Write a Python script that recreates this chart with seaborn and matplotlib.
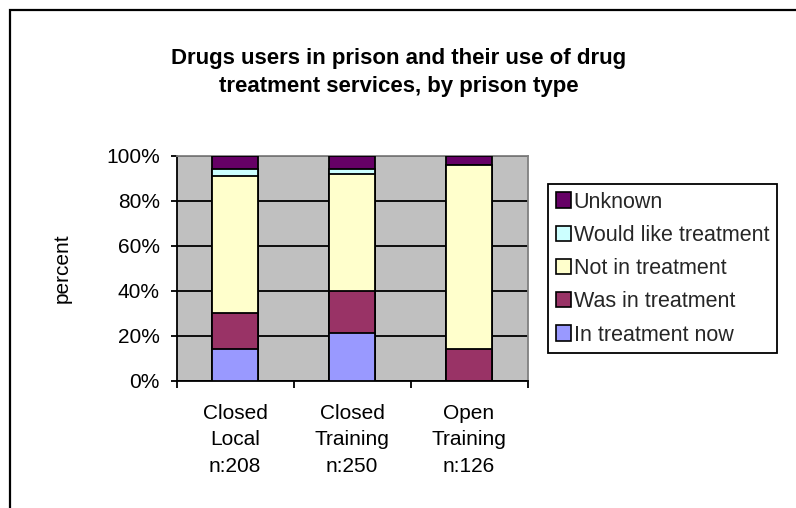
import matplotlib
matplotlib.use("Agg")
import matplotlib.pyplot as plt
from matplotlib.patches import Patch, Rectangle
from matplotlib.ticker import FuncFormatter
import numpy as np
import pandas as pd
import seaborn as sns

# Prison types and group sizes
categories = ["Closed\nLocal\nn:208", "Closed\nTraining\nn:250", "Open\nTraining\nn:126"]

# Percentages for each treatment status (stacked bottom to top)
in_treatment_now = [14, 21, 0]
was_in_treatment = [16, 19, 14]
not_in_treatment = [61, 52, 82]
would_like_treatment = [3, 2, 0]
unknown = [6, 6, 4]

series_names = ["In treatment now", "Was in treatment", "Not in treatment",
                "Would like treatment", "Unknown"]
series_values = [in_treatment_now, was_in_treatment, not_in_treatment,
                 would_like_treatment, unknown]
series_colors = ["#9999FF", "#993366", "#FFFFCC", "#CCFFFF", "#660066"]

sns.set_theme(style="white")
plt.rcParams["font.family"] = ["Liberation Sans", "DejaVu Sans"]

FS = 15

fig = plt.figure(figsize=(7.96, 5.08), dpi=100)
W, H = 796, 508

# chart-area border (runs off the right and bottom edges)
fig.patches.append(Rectangle((9.5 / W, -0.1), 1.2, 1 - 10.5 / H + 0.1,
                             transform=fig.transFigure, fill=False,
                             edgecolor="black", linewidth=1.6, zorder=0))

ax = fig.add_axes([176.5 / W, 1 - 380.7 / H, (527.5 - 176.5) / W, (380.7 - 155.7) / H])
ax.set_facecolor("#C0C0C0")

# cumulative heights: draw tallest first so each segment overlays the previous
cum = np.cumsum(np.array(series_values), axis=0)
for i in range(len(series_names) - 1, -1, -1):
    df = pd.DataFrame({"cat": categories, "val": cum[i]})
    sns.barplot(data=df, x="cat", y="val", ax=ax, color=series_colors[i],
                saturation=1, width=0.4, edgecolor="black", linewidth=1.3,
                zorder=3)

ax.set_ylim(0, 100)
ax.set_xlim(-0.5, 2.5)
ax.set_yticks([0, 20, 40, 60, 80, 100])
ax.yaxis.set_major_formatter(FuncFormatter(lambda v, p: f"{v:.0f}%"))
ax.yaxis.grid(True, color="black", linewidth=1.3, zorder=1)
ax.set_axisbelow(True)

# x ticks at category boundaries, labels centred under bars
ax.set_xticks([0, 1, 2])
ax.set_xticklabels(categories, fontsize=FS, linespacing=1.52)
ax.set_xticks([-0.5, 0.5, 1.5, 2.5], minor=True)
ax.tick_params(axis="x", which="major", length=0, pad=16.5, colors="black")
ax.tick_params(axis="x", which="minor", length=5, width=1.3, direction="out",
               bottom=True, color="black")
ax.tick_params(axis="y", length=4.5, width=1.3, direction="out", left=True,
               labelsize=FS, colors="black", pad=7.5)

for side in ["left", "bottom"]:
    ax.spines[side].set_color("black")
    ax.spines[side].set_linewidth(1.3)
for side in ["top", "right"]:
    ax.spines[side].set_color("#808080")
    ax.spines[side].set_linewidth(1.3)

ax.set_xlabel("")
ax.set_ylabel("percent", fontsize=FS, labelpad=25, color="black")

fig.text(0.5 * (168 + 630) / W, 1 - 72.5 / H,
         "Drugs users in prison and their use of drug\ntreatment services, by prison type",
         ha="center", va="center", fontsize=16, fontweight="bold",
         linespacing=1.4, color="black")

handles = [Patch(facecolor=series_colors[i], edgecolor="black", linewidth=1.2)
           for i in range(len(series_names) - 1, -1, -1)]
labels = series_names[::-1]
leg = fig.legend(handles, labels, loc="upper left",
                 bbox_to_anchor=(548 / W, 1 - 184 / H),
                 bbox_transform=fig.transFigure, fontsize=15.5,
                 frameon=True, fancybox=False, framealpha=1,
                 edgecolor="black", handlelength=0.72, handleheight=0.72,
                 handletextpad=0.12, labelspacing=0.57, borderpad=0.35,
                 borderaxespad=0)
leg.get_frame().set_linewidth(1.3)

fig.savefig("out.png", dpi=100, facecolor="white")
